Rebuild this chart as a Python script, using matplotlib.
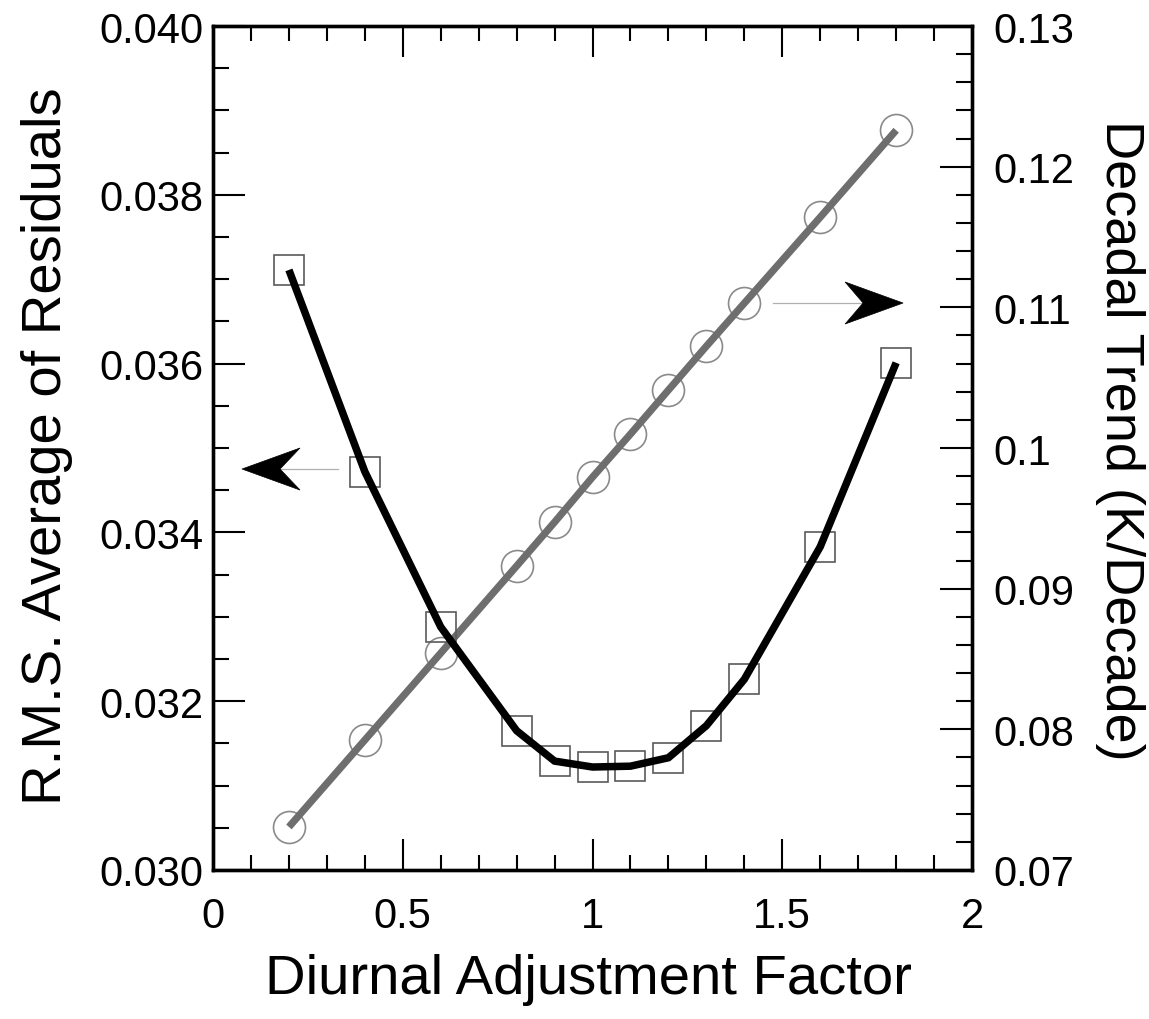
import matplotlib
matplotlib.use("Agg")
import matplotlib.pyplot as plt
from matplotlib.patches import Polygon
from matplotlib.ticker import MultipleLocator, FixedLocator

plt.rcParams['font.family'] = ['Liberation Sans', 'DejaVu Sans']

# Diurnal adjustment factor
factor = [0.2, 0.4, 0.6, 0.8, 0.9, 1.0, 1.1, 1.2, 1.3, 1.4, 1.6, 1.8]
# R.M.S. average of residuals (left axis)
rms = [0.03711, 0.03472, 0.03288, 0.03165, 0.03129, 0.03122,
       0.03123, 0.03133, 0.03171, 0.03226, 0.03383, 0.03601]
# Decadal trend, K/decade (right axis)
trend = [0.07306, 0.07924, 0.08542, 0.09161, 0.09473, 0.09793,
         0.10099, 0.10412, 0.10724, 0.11030, 0.11641, 0.12259]

x_ticks = [0, 0.5, 1, 1.5, 2]
x_labels = ["0", "0.5", "1", "1.5", "2"]
left_ticks = [0.030, 0.032, 0.034, 0.036, 0.038, 0.040]
left_labels = ["0.030", "0.032", "0.034", "0.036", "0.038", "0.040"]
right_ticks = [0.07, 0.08, 0.09, 0.10, 0.11, 0.12, 0.13]
right_labels = ["0.07", "0.08", "0.09", "0.1", "0.11", "0.12", "0.13"]

fig = plt.figure(figsize=(11.49, 10.20), dpi=100)
ax = fig.add_axes([0.1854, 0.1461, 0.6606, 0.8274])
ax2 = ax.twinx()

TICK_FS = 30

# Trend line (right axis)
ax2.plot(factor, trend, linestyle="none", marker="o", markersize=23,
         markerfacecolor="none", markeredgecolor="#8a8a8a",
         markeredgewidth=1.2, zorder=2)
ax2.plot(factor, trend, color="#6e6e6e", linewidth=5.2,
         solid_capstyle="butt", zorder=3)
ax2.set_ylim(0.07, 0.13)

# Residual curve (left axis), drawn above the trend axes
ax.set_zorder(ax2.get_zorder() + 1)
ax.patch.set_visible(False)
ax.plot(factor, rms, linestyle="none", marker="s", markersize=22,
        markerfacecolor="none", markeredgecolor="#5a5a5a",
        markeredgewidth=1.2, zorder=2)
ax.plot(factor, rms, color="black", linewidth=5.4,
        solid_capstyle="butt", solid_joinstyle="miter", zorder=3)
ax.set_xlim(0, 2)
ax.set_ylim(0.030, 0.040)

# Ticks
ax.xaxis.set_major_locator(FixedLocator(x_ticks))
ax.set_xticklabels(x_labels)
ax.xaxis.set_minor_locator(MultipleLocator(0.1))
ax.yaxis.set_major_locator(FixedLocator(left_ticks))
ax.set_yticklabels(left_labels)
ax.yaxis.set_minor_locator(MultipleLocator(0.0005))
ax2.yaxis.set_major_locator(FixedLocator(right_ticks))
ax2.set_yticklabels(right_labels)
ax2.yaxis.set_minor_locator(MultipleLocator(0.002))

ax.tick_params(axis="x", which="both", direction="in", top=True, bottom=True,
               labelsize=TICK_FS, width=1.5, color="black")
ax.tick_params(axis="x", which="major", length=22, pad=19)
ax.tick_params(axis="x", which="minor", length=11)
ax.tick_params(axis="y", which="both", direction="in", left=True, right=False,
               labelsize=TICK_FS, width=1.5)
ax.tick_params(axis="y", which="major", length=23, pad=7)
ax.tick_params(axis="y", which="minor", length=11.5)
ax2.tick_params(axis="y", which="both", direction="in", right=True, left=False,
                labelsize=TICK_FS, width=1.5)
ax2.tick_params(axis="y", which="major", length=23, pad=15)
ax2.tick_params(axis="y", which="minor", length=11.5)

for a in (ax, ax2):
    for s in a.spines.values():
        s.set_linewidth(2.4)
        s.set_color("black")

ax.set_xlabel("Diurnal Adjustment Factor", fontsize=40.5, va="top")
ax.xaxis.set_label_coords(0.494, -0.098)
ax.set_ylabel("R.M.S. Average of Residuals", fontsize=40.5, va="center")
ax.yaxis.set_label_coords(-0.219, 0.503)
ax2.set_ylabel("Decadal Trend (K/Decade)", fontsize=39, rotation=270,
               va="center")
ax2.yaxis.set_label_coords(1.195, 0.51)

# Pointer arrows indicating which axis each curve belongs to
def pointer(tip, back_x, notch_x, tail_x, half_h):
    tx, ty = tip
    ax.plot([notch_x, tail_x], [ty, ty], color="#b0b0b0", linewidth=0.9,
            transform=ax.transAxes, zorder=4, clip_on=False)
    head = Polygon([(tx, ty), (back_x, ty + half_h), (notch_x, ty),
                    (back_x, ty - half_h)], closed=True,
                   facecolor="black", edgecolor="black", linewidth=0.5,
                   transform=ax.transAxes, zorder=5)
    ax.add_patch(head)

pointer((0.0382, 0.4751), 0.1146, 0.0883, 0.1647, 0.0249)
pointer((0.9091, 0.6718), 0.8327, 0.8564, 0.7378, 0.0249)

fig.savefig("out.png", dpi=100)
